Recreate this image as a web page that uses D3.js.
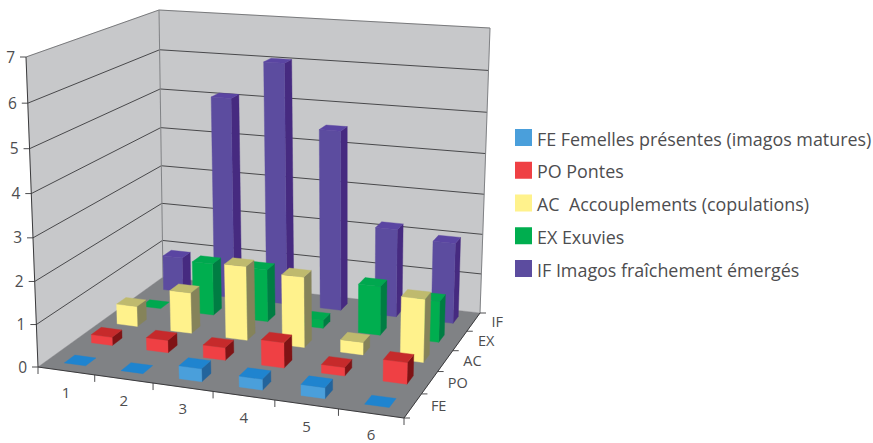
<!DOCTYPE html>
<html>
<head>
<meta charset="utf-8">
<script src="https://d3js.org/d3.v7.min.js"></script>
<style>
  html, body { margin: 0; padding: 0; background: #ffffff; }
  text { font-family: "Open Sans", sans-serif; fill: #4d4d4f; }
</style>
</head>
<body>
<svg id="chart" width="873" height="443"></svg>
<script>
// values
const categories = ['1', '2', '3', '4', '5', '6'];
const seriesCodes = ['FE', 'PO', 'AC', 'EX', 'IF'];
const seriesNames = [
    'FE Femelles présentes (imagos matures)',
    'PO Pontes',
    'AC  Accouplements (copulations)',
    'EX Exuvies',
    'IF Imagos fraîchement émergés'
];
const feValues = [0, 0, 0.3, 0.25, 0.25, 0];
const poValues = [0.2, 0.3, 0.3, 0.6, 0.2, 0.5];
const acValues = [0.5, 1, 1.8, 1.7, 0.3, 1.5];
const exValues = [0, 1.3, 1.3, 0.2, 1.2, 1];
const ifValues = [0.9, 5.1, 6.05, 4.5, 2.2, 2];
const valueTicks = [0, 1, 2, 3, 4, 5, 6, 7];

const seriesValues = [feValues, poValues, acValues, exValues, ifValues];
const frontColors = ['#4a9fdb', '#ef4044', '#fff28c', '#00ae4f', '#5c4c9f'];
const topColors = ['#1f84cf', '#c62a2b', '#bfba6e', '#00a84f', '#5a45a2'];
const sideColors = ['#23649c', '#7f1315', '#85835a', '#007d43', '#462a80'];

const svg = d3.select('#chart');

// Unit square -> quad (perspective mapping)
function quadMap(q) {
    const [p0, p1, p2, p3] = q;
    const dx1 = p1[0] - p2[0], dx2 = p3[0] - p2[0], sx = p0[0] - p1[0] + p2[0] - p3[0];
    const dy1 = p1[1] - p2[1], dy2 = p3[1] - p2[1], sy = p0[1] - p1[1] + p2[1] - p3[1];
    const det = dx1 * dy2 - dx2 * dy1;
    const g = (sx * dy2 - dx2 * sy) / det;
    const h = (dx1 * sy - sx * dy1) / det;
    const a = p1[0] - p0[0] + g * p1[0], b = p3[0] - p0[0] + h * p3[0];
    const d = p1[1] - p0[1] + g * p1[1], e = p3[1] - p0[1] + h * p3[1];
    return function(u, w) {
        const k = g * u + h * w + 1;
        return [(a * u + b * w + p0[0]) / k, (d * u + e * w + p0[1]) / k];
    };
}

// Chart box as seen on screen: floor and ceiling corners (front-left, front-right, back-right, back-left)
const floorMap = quadMap([[38, 367], [404, 418], [480, 313], [163, 277]]);
const ceilMap = quadMap([[26, 57], [412, 87], [490, 28], [159, 10]]);

const x = d3.scaleBand().domain(categories).range([0, 1]).paddingInner(0.62).paddingOuter(0.31);
const z = d3.scaleBand().domain(seriesCodes).range([0, 1]).paddingInner(0.62).paddingOuter(0.31);
const y = d3.scaleLinear().domain([0, 7]).range([0, 1]);

function project(u, v, w) {
    const a = floorMap(u, w), b = ceilMap(u, w), r = y(v);
    // vertical foreshortening: gridlines spread slightly towards the top
    const t = r / (r + (1 - r) * 1.05);
    return [a[0] + (b[0] - a[0]) * t, a[1] + (b[1] - a[1]) * t];
}

function poly(g, pts, fill, stroke) {
    return g.append('polygon')
        .attr('points', pts.map(p => p.join(',')).join(' '))
        .attr('fill', fill)
        .attr('stroke', stroke || fill)
        .attr('stroke-width', 0.4);
}

function seg(g, a, b, color, width) {
    g.append('line')
        .attr('x1', a[0]).attr('y1', a[1])
        .attr('x2', b[0]).attr('y2', b[1])
        .attr('stroke', color)
        .attr('stroke-width', width);
}

// 1. Walls and floor
const box = svg.append('g');
poly(box, [project(0, 0, 0), project(0, 7, 0), project(0, 7, 1), project(0, 0, 1)], '#c7c8ca');
poly(box, [project(0, 0, 1), project(0, 7, 1), project(1, 7, 1), project(1, 0, 1)], '#c7c8ca');
poly(box, [project(0, 0, 0), project(1, 0, 0), project(1, 0, 1), project(0, 0, 1)], '#808285');

// 2. Gridlines
valueTicks.forEach(function(v) {
    const col = v === 7 ? '#6d6e71' : '#3a3a3c';
    if (v > 0) seg(box, project(0, v, 0), project(0, v, 1), col, 0.9);
    if (v > 0) seg(box, project(0, v, 1), project(1, v, 1), col, 0.9);
});
seg(box, project(0, 0, 1), project(0, 7, 1), '#808285', 1);
seg(box, project(1, 0, 1), project(1, 7, 1), '#808285', 1);

// 3. Axes
seg(box, project(0, 0, 0), project(0, 7, 0), '#3a3a3c', 1);
seg(box, project(0, 0, 0), project(1, 0, 0), '#3a3a3c', 1);
seg(box, project(1, 0, 0), project(1, 0, 1), '#3a3a3c', 1);

valueTicks.forEach(function(v) {
    const p = project(0, v, 0);
    seg(box, p, [p[0] - 6, p[1]], '#3a3a3c', 0.9);
    box.append('text').attr('x', p[0] - 11).attr('y', p[1]).attr('dy', '0.36em')
        .attr('text-anchor', 'end').attr('font-size', 15.5).text(v);
});

d3.range(categories.length + 1).forEach(function(i) {
    const p = project(x.step() * i, 0, 0);
    seg(box, p, [p[0], p[1] + 7], '#3a3a3c', 0.9);
});
categories.forEach(function(c) {
    const p = project(x(c) + x.bandwidth() / 2, 0, 0);
    box.append('text').attr('x', p[0]).attr('y', p[1] + 22).attr('dy', '0.34em')
        .attr('text-anchor', 'middle').attr('font-size', 15).text(c);
});

d3.range(seriesCodes.length + 1).forEach(function(i) {
    const p = project(1, 0, z.step() * i);
    seg(box, p, [p[0] + 6, p[1]], '#3a3a3c', 0.9);
});
seriesCodes.forEach(function(c) {
    const p = project(1, 0, z(c) + z.bandwidth() / 2);
    box.append('text').attr('x', p[0] + 18).attr('y', p[1]).attr('dy', '0.36em')
        .attr('text-anchor', 'start').attr('font-size', 14.5).text(c);
});

// 4. Bars, back row first so the front rows cover them
const bars = svg.append('g');
d3.range(seriesCodes.length - 1, -1, -1).forEach(function(s) {
    const w0 = z(seriesCodes[s]), w1 = w0 + z.bandwidth();
    categories.forEach(function(c, i) {
        const v = seriesValues[s][i];
        const u0 = x(c), u1 = u0 + x.bandwidth();
        if (v > 0) {
            poly(bars, [project(u1, 0, w0), project(u1, v, w0), project(u1, v, w1), project(u1, 0, w1)], sideColors[s]);
            poly(bars, [project(u0, 0, w0), project(u0, v, w0), project(u1, v, w0), project(u1, 0, w0)], frontColors[s]);
        }
        poly(bars, [project(u0, v, w0), project(u1, v, w0), project(u1, v, w1), project(u0, v, w1)], topColors[s]);
    });
});

// 5. Legend
const legend = svg.append('g');
const legendY = d3.scalePoint().domain(seriesNames).range([137.5, 268.5]);
seriesNames.forEach(function(name, s) {
    legend.append('rect').attr('x', 515).attr('y', legendY(name) - 8.5)
        .attr('width', 17).attr('height', 17).attr('fill', frontColors[s]);
    legend.append('text').attr('x', 537).attr('y', legendY(name) + 8)
        .attr('font-size', 17.9).style('white-space', 'pre').text(name);
});
</script>
</body>
</html>
